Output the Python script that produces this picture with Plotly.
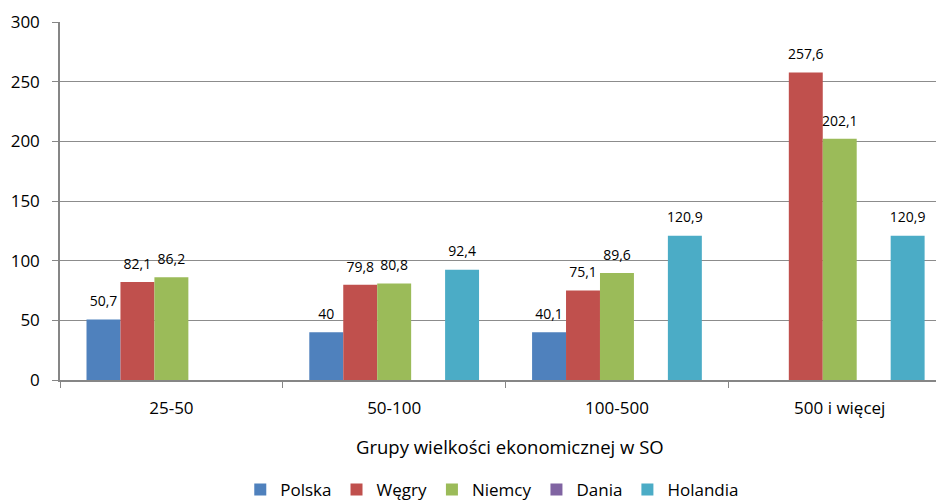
import plotly.graph_objects as go

categories = ["25-50", "50-100", "100-500", "500 i więcej"]
polska = [50.7, 40, 40.1, None]
wegry = [82.1, 79.8, 75.1, 257.6]
niemcy = [86.2, 80.8, 89.6, 202.1]
dania = [None, None, None, None]
holandia = [None, 92.4, 120.9, 120.9]

series = [
    ("Polska", polska, "#4F81BD"),
    ("Węgry", wegry, "#C0504D"),
    ("Niemcy", niemcy, "#9BBB59"),
    ("Dania", dania, "#8064A2"),
    ("Holandia", holandia, "#4BACC6"),
]

FONT = "Open Sans"
GAP = 0.238


def fmt(v):
    if v is None:
        return ""
    return ("%g" % v).replace(".", ",")


fig = go.Figure()
for name, vals, color in series:
    fig.add_trace(go.Bar(
        name=name, x=categories, y=vals,
        marker=dict(color=color, line=dict(width=0)),
        offsetgroup=name, alignmentgroup="a",
    ))
for name, vals, color in series:
    fig.add_trace(go.Scatter(
        x=categories, y=vals, mode="markers+text",
        marker=dict(size=14, color="rgba(0,0,0,0)"),
        text=[fmt(v) for v in vals],
        textposition="top center",
        textfont=dict(family=FONT, size=14, color="#000000"),
        offsetgroup=name, alignmentgroup="a",
        showlegend=False, hoverinfo="skip", cliponaxis=False,
    ))

fig.update_layout(
    width=944, height=500,
    margin=dict(l=52, r=8, t=14, b=128, autoexpand=False),
    paper_bgcolor="white", plot_bgcolor="white",
    barmode="group", bargap=GAP, bargroupgap=0,
    scattermode="group", scattergap=GAP,
    font=dict(family=FONT, size=17, color="#000000"),
    showlegend=True,
    legend=dict(orientation="h", x=0.489, xanchor="center",
                yref="container", y=0.036, yanchor="middle",
                font=dict(family=FONT, size=17), itemclick=False),
    annotations=[dict(text="Grupy wielkości ekonomicznej w SO", xref="paper", yref="paper",
                      x=0.509, y=-0.187, xanchor="center", yanchor="middle", showarrow=False,
                      font=dict(family=FONT, size=18.5, color="#000000"))],
)
fig.update_xaxes(
    range=[-0.5, 3.468], automargin=False,
    showline=True, linecolor="#868686", linewidth=1.5,
    ticks="outside", tickson="boundaries", ticklen=6, tickcolor="#868686",
    ticklabelstandoff=12,
    showgrid=False, tickfont=dict(family=FONT, size=17),
)
fig.update_yaxes(
    range=[0, 300], dtick=50, automargin=False,
    showline=True, linecolor="#868686", linewidth=1.5,
    ticks="outside", ticklen=6, tickcolor="#868686",
    ticklabelstandoff=9,
    showgrid=True, gridcolor="#8C8C8C", gridwidth=1,
    zeroline=False, tickfont=dict(family=FONT, size=17),
)

fig.write_html("out.html")
